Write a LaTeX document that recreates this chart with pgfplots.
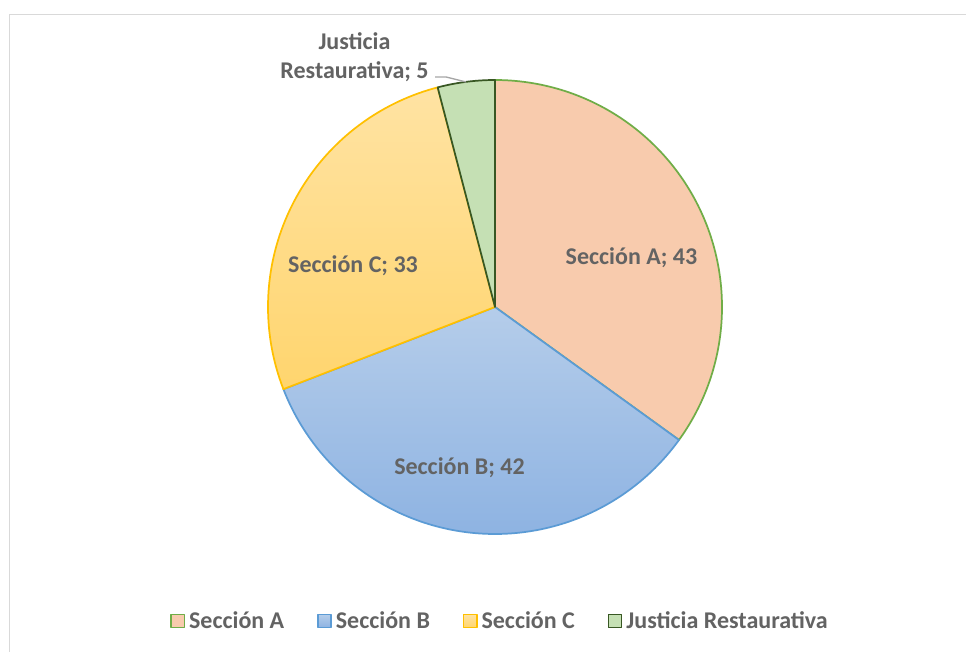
\documentclass[border=0pt]{standalone}
\usepackage{pgfplots}
\pgfplotsset{compat=1.18}
\usepackage{pgfplotstable}
\usepackage{fontspec}
\setmainfont{Carlito}
\definecolor{fA}{HTML}{F8CBAD}
\definecolor{dA}{HTML}{70AD47}
\definecolor{fBt}{HTML}{B5CDEA}
\definecolor{fBb}{HTML}{8EB3E2}
\definecolor{dB}{HTML}{5B9BD5}
\definecolor{fCt}{HTML}{FFE3A3}
\definecolor{fCb}{HTML}{FFD56E}
\definecolor{dC}{HTML}{FFC000}
\definecolor{fJ}{HTML}{C5E0B4}
\definecolor{dJ}{HTML}{385723}
\definecolor{lbl}{HTML}{636363}
\definecolor{frame}{HTML}{D9D9D9}

\pgfplotstableread{
label value
A 43
B 42
C 33
J 5
}\piedata

\newcommand\lblfont{\fontsize{18}{21.75}\selectfont\bfseries}

\begin{document}
\begin{tikzpicture}[x=0.75pt,y=0.75pt]
\useasboundingbox (0,0) rectangle (966,651);
\fill[white] (0,0) rectangle (966,651);
\draw[color=frame, line width=1.2pt] (9.5,636.5) rectangle (990,-30);
\pgfplotstablegetelem{0}{value}\of\piedata \pgfmathsetmacro\va{\pgfplotsretval}
\pgfplotstablegetelem{1}{value}\of\piedata \pgfmathsetmacro\vb{\pgfplotsretval}
\pgfplotstablegetelem{2}{value}\of\piedata \pgfmathsetmacro\vc{\pgfplotsretval}
\pgfplotstablegetelem{3}{value}\of\piedata \pgfmathsetmacro\vj{\pgfplotsretval}
\pgfmathsetmacro\tot{\va+\vb+\vc+\vj}
\pgfmathsetmacro\aA{90}
\pgfmathsetmacro\aB{\aA-360*\va/\tot}
\pgfmathsetmacro\aC{\aB-360*\vb/\tot}
\pgfmathsetmacro\aD{\aC-360*\vc/\tot}
\pgfmathsetmacro\aE{\aD-360*\vj/\tot}
\begin{axis}[
  at={(0,0)}, anchor=south west, scale only axis,
  width=724.5pt, height=488.25pt,
  xmin=0, xmax=966, ymin=0, ymax=651,
  hide axis, clip=false,
  legend columns=4,
  legend image code/.code={\draw[#1, line width=1.2pt] (0pt,-5pt) rectangle (10pt,5pt);},
  legend style={at={(0.5186,0.0461)}, anchor=center, draw=none, fill=none,
    font=\lblfont, text=lbl, inner sep=0pt,
    nodes={inner xsep=3pt, inner ysep=1pt},
    /tikz/every even column/.append style={column sep=21.5pt}},
]
\addplot[fill=fA, draw=dA, line width=1.3pt, line join=round, domain=\aB:\aA, samples=120, variable=\t]
  ({495+227*cos(\t)},{344+227*sin(\t)}) -- (axis cs:495,344) -- cycle;
\addplot[top color=fBt, bottom color=fBb, draw=dB, line width=1.3pt, line join=round, domain=\aC:\aB, samples=120, variable=\t]
  ({495+227*cos(\t)},{344+227*sin(\t)}) -- (axis cs:495,344) -- cycle;
\addplot[top color=fCt, bottom color=fCb, draw=dC, line width=1.3pt, line join=round, domain=\aD:\aC, samples=100, variable=\t]
  ({495+227*cos(\t)},{344+227*sin(\t)}) -- (axis cs:495,344) -- cycle;
\addplot[fill=fJ, draw=dJ, line width=1.3pt, line join=round, domain=\aE:\aD, samples=30, variable=\t]
  ({495+227*cos(\t)},{344+227*sin(\t)}) -- (axis cs:495,344) -- cycle;
\addplot[forget plot, color=gray!70, line width=1pt] coordinates {(435,574) (446,574) (466,569)};
\legend{Sección A, Sección B, Sección C, Justicia Restaurativa}
\node[font=\lblfont, text=lbl, anchor=base] at (axis cs:631.5,386.5) {Sección A; 43};
\node[font=\lblfont, text=lbl, anchor=base] at (axis cs:459.5,176.5) {Sección B; 42};
\node[font=\lblfont, text=lbl, anchor=base] at (axis cs:353,378.5) {Sección C; 33};
\node[font=\lblfont, text=lbl, anchor=base, align=center] at (axis cs:354.5,601) {Justicia};
\node[font=\lblfont, text=lbl, anchor=base, align=center] at (axis cs:354.5,572) {Restaurativa; 5};
\end{axis}
\end{tikzpicture}
\end{document}
